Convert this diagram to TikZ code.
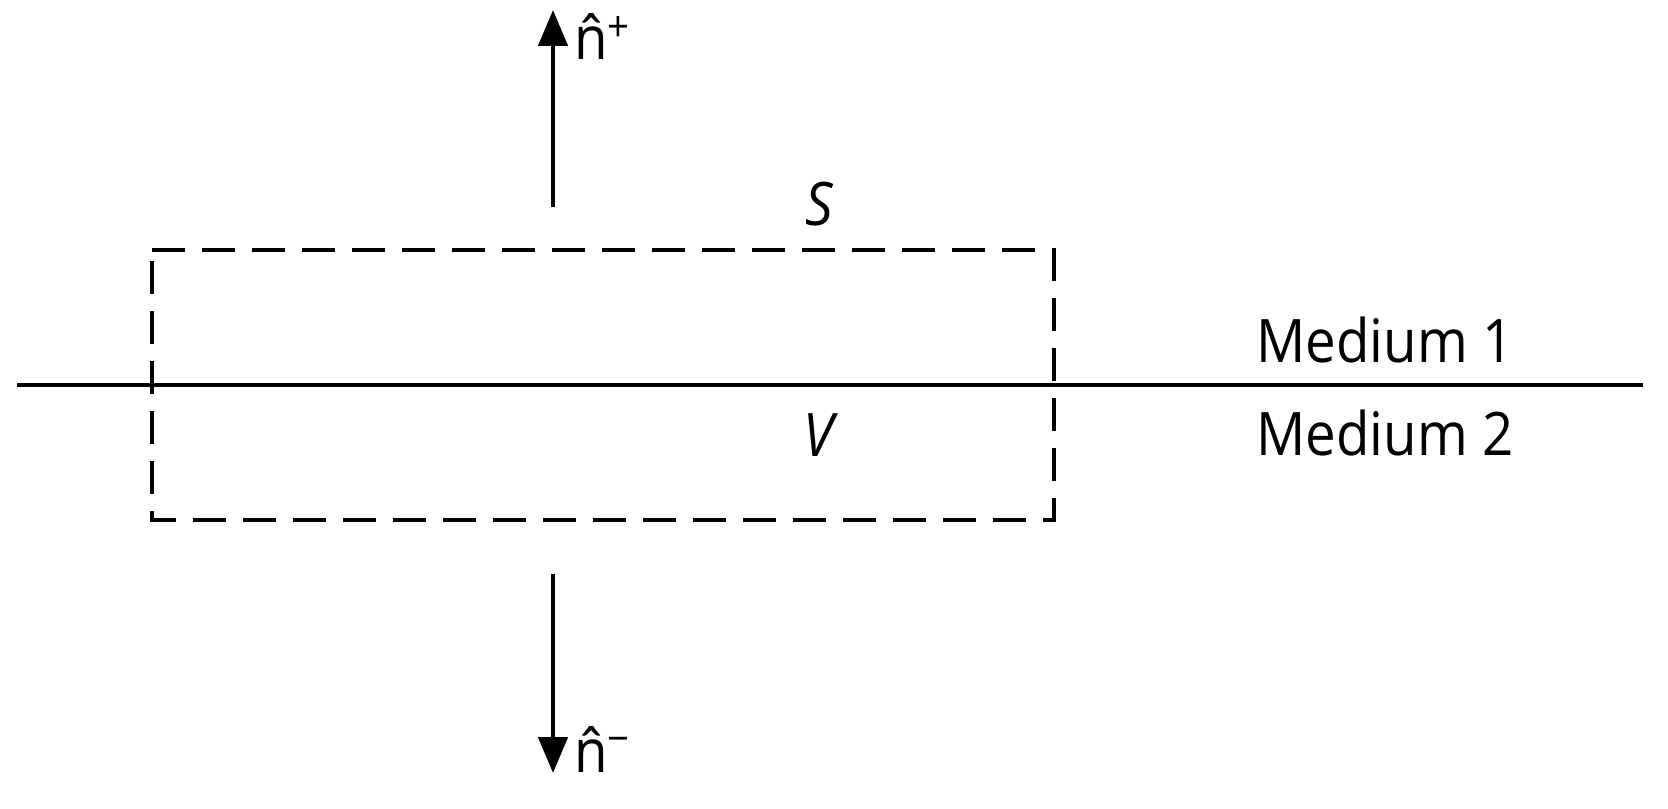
\documentclass[tikz,border=0pt]{standalone}
\usepackage{fontspec}
\setmainfont{Open Sans}
\usetikzlibrary{arrows.meta}
\newcommand\myhatn{\ooalign{n\cr\hidewidth ˆ\hidewidth\cr}}
\newcommand\narrowtxt[1]{\scalebox{0.91}[1]{#1}}
\begin{document}
\begin{tikzpicture}[x=0.5pt,y=-0.5pt,
  thick line/.style={line width=2.4pt},
  boxline/.style={line width=2.4pt, dash pattern=on 16.5pt off 8.5pt, line cap=butt},
  arr/.style={line width=2.4pt, -{Triangle[length=18pt,width=14.5pt]}},
  lbl/.style={font=\fontsize{30}{36}\selectfont, inner sep=0pt, anchor=base west}]
\useasboundingbox (0,0) rectangle (1668,808);
% interface
\coordinate (L) at (17,385);
\coordinate (R) at (1643,385);
\draw[thick line] (L) -- (R);
% surface box
\coordinate (b1) at (152,250);
\coordinate (b2) at (1054,250);
\coordinate (b3) at (1054,520);
\coordinate (b4) at (152,520);
\draw[boxline] (b1) -- (b2) -- (b3) -- (b4) -- cycle;
% normals
\coordinate (up0) at (553,207);
\coordinate (up1) at (553,10);
\coordinate (dn0) at (553,574);
\coordinate (dn1) at (553,773);
\draw[arr] (up0) -- (up1);
\draw[arr] (dn0) -- (dn1);
\node[lbl] (np) at (574,60) {\narrowtxt{\myhatn\textsuperscript{+}}};
\node[lbl] (nm) at (574,772) {\narrowtxt{\myhatn\textsuperscript{−}}};
% labels
\node[lbl] (S) at (805,225) {\narrowtxt{\itshape S}};
\node[lbl] (V) at (803,456) {\narrowtxt{\itshape V}};
\node[lbl] (m1) at (1256,362) {\narrowtxt{Medium 1}};
\node[lbl] (m2) at (1256,455) {\narrowtxt{Medium 2}};
\end{tikzpicture}
\end{document}
